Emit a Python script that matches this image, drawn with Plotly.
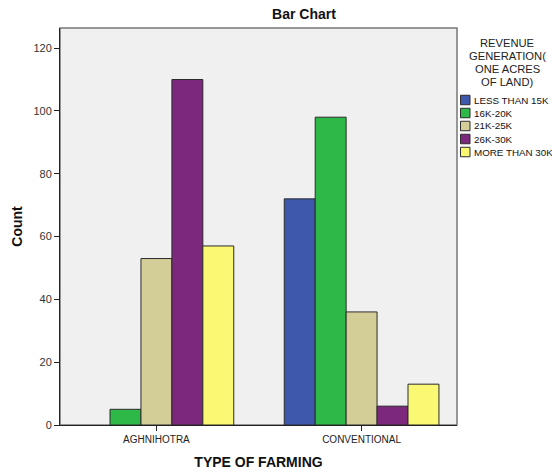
import plotly.graph_objects as go

categories = ["AGHNIHOTRA", "CONVENTIONAL"]
series_names = ["LESS THAN 15K", "16K-20K", "21K-25K", "26K-30K", "MORE THAN 30K"]
less_than_15k = [None, 72]
k16_20 = [5, 98]
k21_25 = [53, 36]
k26_30 = [110, 6]
more_than_30k = [57, 13]
series_values = [less_than_15k, k16_20, k21_25, k26_30, more_than_30k]
colors = ["#3E58AC", "#2EB848", "#D3CE97", "#7C287D", "#FBF873"]
y_ticks = [0, 20, 40, 60, 80, 100, 120]
legend_title_lines = ["REVENUE", "GENERATION(", "ONE ACRES", "OF LAND)"]

W, H = 552, 472
L, R, T, B = 60, 95, 28, 47
PW, PH = W - L - R, H - T - B


def px_x(px):
    return (px - L) / PW


def px_y(py):
    return 1 - (py - T) / PH


fig = go.Figure()
for name, vals, col in zip(series_names, series_values, colors):
    fig.add_trace(go.Bar(
        x=categories, y=vals, name=name,
        marker=dict(color=col, line=dict(color="#2b2b2b", width=1)),
    ))

fig.update_layout(
    width=W, height=H,
    margin=dict(l=L, r=R, t=T, b=B, autoexpand=False),
    paper_bgcolor="white", plot_bgcolor="#F0F0F0",
    barmode="group", bargap=0.246, bargroupgap=0,
    font=dict(family="Liberation Sans, Arial, sans-serif", color="#222"),
    title=dict(text="Bar Chart", x=304/W, xanchor="center", xref="container",
               y=1-14/H, yanchor="middle", yref="container",
               font=dict(size=14, color="#111", weight="bold")),
    showlegend=False,
)

# legend title (one annotation per line, tight SPSS-like leading)
for i, line in enumerate(legend_title_lines):
    fig.add_annotation(text=line, xref="paper", yref="paper",
                       x=px_x(507), y=px_y(42.5 + 13 * i), xanchor="center", yanchor="middle",
                       showarrow=False, font=dict(size=11.2, color="#222"))

# legend entries
for i, (name, col) in enumerate(zip(series_names, colors)):
    cy = 100 + 13 * i
    fig.add_shape(type="rect", xref="paper", yref="paper",
                  x0=px_x(460.5), x1=px_x(470), y0=px_y(cy - 4.75), y1=px_y(cy + 4.75),
                  line=dict(color="#2b2b2b", width=1), fillcolor=col)
    fig.add_annotation(text=name, xref="paper", yref="paper",
                       x=px_x(472), y=px_y(cy), xanchor="left", yanchor="middle",
                       showarrow=False, font=dict(size=9.8, color="#111"))

fig.update_xaxes(
    range=[-0.47, 1.465], showgrid=False, zeroline=False,
    showline=True, linecolor="#222", linewidth=1,
    ticks="outside", ticklen=5, tickcolor="#222",
    tickfont=dict(size=10, color="#222"),
    title=dict(text="TYPE OF FARMING", font=dict(size=14, color="#111", weight="bold"), standoff=13),
)
fig.update_yaxes(
    range=[0, 126.4], showgrid=False, zeroline=False,
    showline=True, linecolor="#222", linewidth=1,
    tickvals=y_ticks, ticks="outside", ticklen=5, tickcolor="#222",
    tickfont=dict(size=11, color="#333"),
    title=dict(text="Count", font=dict(size=14, color="#111", weight="bold"), standoff=7),
)
fig.add_shape(type="rect", xref="paper", yref="paper", x0=0, x1=1, y0=0, y1=1,
              line=dict(color="#777777", width=1.5), fillcolor="rgba(0,0,0,0)", layer="below")
fig.write_html("out.html", config={"displayModeBar": False},
               post_script="document.body.style.margin='0';document.body.style.overflow='hidden';")
